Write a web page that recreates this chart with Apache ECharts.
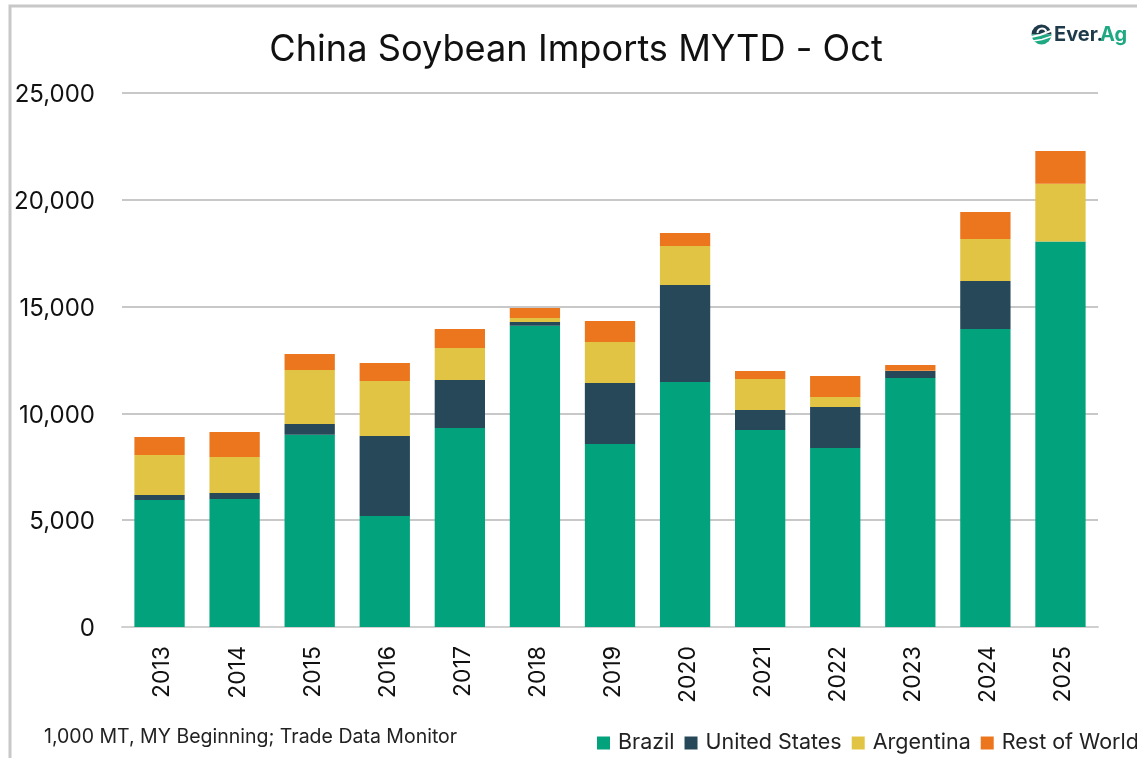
<!DOCTYPE html>
<html><head><meta charset="utf-8">
<style>html,body{margin:0;padding:0;background:#fff}#c{width:1137px;height:758px}</style>
<script src="https://cdn.jsdelivr.net/npm/echarts@6/dist/echarts.min.js"></script></head>
<body><div id="c"></div>
<script>
const years=['2013','2014','2015','2016','2017','2018','2019','2020','2021','2022','2023','2024','2025'];
const brazil=[5950,5990,9000,5200,9320,14100,8570,11470,9220,8380,11660,13950,18050];
const unitedStates=[230,280,500,3740,2240,180,2850,4540,940,1920,325,2250,0];
const argentina=[1870,1690,2530,2580,1500,190,1920,1830,1450,470,15,1970,2700];
const restOfWorld=[850,1170,750,840,890,460,990,610,375,980,270,1260,1530];
const names=['Brazil','United States','Argentina','Rest of World'];
const colors=['#02a27c','#264858','#e2c444','#ec761e'];
const font='Inter';
const chart=echarts.init(document.getElementById('c'),null,{renderer:'canvas'});
const data=[brazil,unitedStates,argentina,restOfWorld];
chart.setOption({
 animation:false,
 title:{text:'China Soybean Imports MYTD - Oct',left:571,top:27,textAlign:'center',textStyle:{fontFamily:font,fontWeight:400,fontSize:36.2,color:'#111'}},
 grid:{left:122,right:39,top:93,bottom:131,containLabel:false},
 legend:{left:592,top:727,width:720,itemWidth:13,itemHeight:13,itemGap:10,icon:'rect',textStyle:{fontFamily:font,fontSize:21.5,color:'#222',padding:[0,0,0,3]},data:names},
 xAxis:{type:'category',data:years,axisTick:{show:false},axisLine:{lineStyle:{color:'#d0d0d0',width:2}},axisLabel:{rotate:90,fontFamily:font,fontSize:23,color:'#111',margin:19,verticalAlign:'top',lineHeight:6}},
 yAxis:{type:'value',min:0,max:25000,interval:5000,axisLine:{show:false},axisTick:{show:false},splitLine:{lineStyle:{color:'#c8c8c8',width:2}},axisLabel:{fontFamily:font,fontSize:24,color:'#111',margin:27,verticalAlign:'top',lineHeight:4,formatter:v=>v.toLocaleString('en-US')}},
 series:names.map((n,i)=>({name:n,type:'bar',stack:'t',data:data[i],barWidth:'67%',itemStyle:{color:colors[i]}})),
 graphic:[
  {type:'rect',shape:{x:10,y:6,width:1140,height:760},style:{fill:'none',stroke:'#c8c8c8',lineWidth:3},silent:true},
  {type:'text',left:44,top:727,style:{text:'1,000 MT, MY Beginning; Trade Data Monitor',fontFamily:font,fontSize:19.5,fill:'#222'}},
  {type:'sector',shape:{cx:1041.5,cy:34.5,r:10,r0:0,startAngle:Math.PI,endAngle:Math.PI*2},style:{fill:'#1f3a4a'}},
  {type:'sector',shape:{cx:1041.5,cy:34.5,r:10,r0:0,startAngle:0,endAngle:Math.PI},style:{fill:'#1ea983'}},
  {type:'polyline',shape:{points:[[1031,37],[1040,35],[1052,30.5]]},style:{stroke:'#fff',lineWidth:2,fill:'none'}},
  {type:'polyline',shape:{points:[[1033,41],[1042,39.5],[1051,36.5]]},style:{stroke:'#fff',lineWidth:1.5,fill:'none'}},
  {type:'arc',shape:{cx:1042,cy:33,r:4.5,startAngle:Math.PI*1.0,endAngle:Math.PI*1.9},style:{stroke:'#fff',lineWidth:2,fill:'none'}},
  {type:'text',left:1054,top:25,style:{text:'Ever.',fontFamily:font,fontWeight:700,fontSize:20,fill:'#1f3a4a'}},
  {type:'text',left:1100,top:25,style:{text:'Ag',fontFamily:font,fontWeight:700,fontSize:20,fill:'#1ea983'}}
 ]
});
</script></body></html>
